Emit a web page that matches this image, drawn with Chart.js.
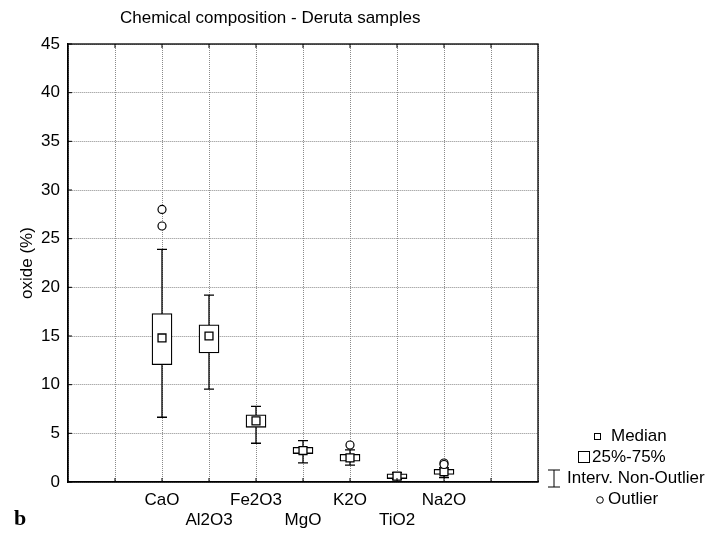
<!DOCTYPE html>
<html>
<head>
<meta charset="utf-8">
<script src="https://cdn.jsdelivr.net/npm/chart.js@4.4.1/dist/chart.umd.min.js"></script>
<style>
  html, body { margin: 0; padding: 0; background: #fff; }
</style>
</head>
<body>
<canvas id="chart" width="715" height="535"></canvas>
<script>
// oxide names and their slot on the x axis (axis runs 0..10)
const oxides = ['CaO', 'Al2O3', 'Fe2O3', 'MgO', 'K2O', 'TiO2', 'Na2O'];
const slots = [2, 3, 4, 5, 6, 7, 8];
const secondRow = ['Al2O3', 'MgO', 'TiO2'];

// box plot values (%)
const whiskerLow = [6.65, 9.55, 3.98, 1.97, 1.73, 0.25, 0.45];
const q1 = [12.05, 13.25, 5.62, 2.92, 2.14, 0.35, 0.78];
const median = [14.8, 15.0, 6.28, 3.23, 2.48, 0.6, 1.05];
const q3 = [17.3, 16.15, 6.9, 3.57, 2.85, 0.85, 1.3];
const whiskerHigh = [23.9, 19.2, 7.77, 4.26, 3.3, 0.95, 1.45];

// outliers: index into oxides, value
const outlierIdx = [0, 0, 4, 6, 6];
const outlierVal = [28.0, 26.3, 3.8, 1.95, 1.8];

const yTicks = [0, 5, 10, 15, 20, 25, 30, 35, 40, 45];

const FONT = '"Liberation Sans", Arial, sans-serif';

const boxPlugin = {
  id: 'boxExtras',
  beforeDatasetsDraw(chart) {
    const ctx = chart.ctx;
    const x = chart.scales.x, y = chart.scales.y;
    ctx.save();
    ctx.strokeStyle = '#000';
    ctx.lineWidth = 1.3;
    for (let i = 0; i < oxides.length; i++) {
      const px = x.getPixelForValue(slots[i]);
      const lo = y.getPixelForValue(whiskerLow[i]);
      const hi = y.getPixelForValue(whiskerHigh[i]);
      ctx.beginPath();
      ctx.moveTo(px, lo); ctx.lineTo(px, hi);
      ctx.moveTo(px - 5, lo); ctx.lineTo(px + 5, lo);
      ctx.moveTo(px - 5, hi); ctx.lineTo(px + 5, hi);
      ctx.stroke();
    }
    ctx.restore();
  },
  afterDraw(chart) {
    const ctx = chart.ctx;
    const a = chart.chartArea;
    const x = chart.scales.x, y = chart.scales.y;
    ctx.save();
    // frame
    ctx.strokeStyle = '#000';
    ctx.lineWidth = 1.3;
    ctx.strokeRect(a.left, a.top, a.right - a.left, a.bottom - a.top);
    // inner ticks
    ctx.lineWidth = 1;
    ctx.beginPath();
    yTicks.forEach(v => {
      const py = y.getPixelForValue(v);
      ctx.moveTo(a.left, py); ctx.lineTo(a.left + 4, py);
    });
    for (let v = 1; v < 10; v++) {
      const px = x.getPixelForValue(v);
      ctx.moveTo(px, a.bottom); ctx.lineTo(px, a.bottom - 4);
      ctx.moveTo(px, a.top); ctx.lineTo(px, a.top + 4);
    }
    ctx.stroke();

    // title
    ctx.fillStyle = '#000';
    ctx.font = '17px ' + FONT;
    ctx.textBaseline = 'middle';
    ctx.textAlign = 'left';
    ctx.fillText('Chemical composition - Deruta samples', 120, 18);

    // panel letter
    ctx.font = 'bold 22px "Liberation Serif", "Times New Roman", serif';
    ctx.textBaseline = 'alphabetic';
    ctx.fillText('b', 14, 525);

    // legend
    ctx.font = '17px ' + FONT;
    ctx.textBaseline = 'middle';
    ctx.lineWidth = 1;
    ctx.strokeStyle = '#000';
    ctx.fillStyle = '#000';
    ctx.strokeRect(594.5, 433.5, 6, 6);
    ctx.fillText('Median', 611, 436);
    ctx.strokeRect(578.5, 451.5, 11, 11);
    ctx.fillText('25%-75%', 592, 457);
    ctx.beginPath();
    ctx.moveTo(554, 470); ctx.lineTo(554, 487);
    ctx.moveTo(548, 470); ctx.lineTo(560, 470);
    ctx.moveTo(548, 487); ctx.lineTo(560, 487);
    ctx.stroke();
    ctx.fillText('Interv. Non-Outlier', 567, 478);
    ctx.beginPath();
    ctx.arc(600, 500, 3.3, 0, Math.PI * 2);
    ctx.stroke();
    ctx.fillText('Outlier', 608, 499);
    ctx.restore();
  }
};

const boxData = slots.map((s, i) => ({ x: s, y: [q1[i], q3[i]] }));
const medianData = slots.map((s, i) => ({ x: s, y: median[i] }));
const outlierData = outlierIdx.map((k, i) => ({ x: slots[k], y: outlierVal[i] }));

new Chart(document.getElementById('chart'), {
  type: 'bar',
  data: {
    datasets: [
      {
        type: 'scatter',
        label: 'Outlier',
        data: outlierData,
        pointStyle: 'circle',
        radius: 4,
        backgroundColor: '#fff',
        borderColor: '#000',
        borderWidth: 1.2
      },
      {
        type: 'scatter',
        label: 'Median',
        data: medianData,
        pointStyle: 'rect',
        radius: 5.6,
        backgroundColor: '#fff',
        borderColor: '#000',
        borderWidth: 1.3
      },
      {
        label: '25%-75%',
        data: boxData,
        barThickness: 20,
        backgroundColor: '#fff',
        borderColor: '#000',
        borderWidth: 1.3,
        borderSkipped: false
      }
    ]
  },
  options: {
    responsive: false,
    animation: false,
    events: [],
    layout: { padding: { left: 0, right: 177, top: 44, bottom: 0 } },
    plugins: {
      legend: { display: false },
      title: { display: false },
      tooltip: { enabled: false }
    },
    scales: {
      x: {
        type: 'linear',
        min: 0,
        max: 10,
        offset: false,
        afterFit: s => { s.height = 53; },
        border: { display: true, color: '#000', width: 1.3, dash: [1, 1] },
        grid: { color: '#8a8a8a', lineWidth: 1, drawTicks: false, offset: false },
        ticks: {
          stepSize: 1,
          autoSkip: false,
          maxRotation: 0,
          padding: 8,
          color: '#000',
          font: { family: FONT, size: 17, lineHeight: 1.18 },
          callback: v => {
            const i = slots.indexOf(v);
            if (i < 0) return '';
            return secondRow.includes(oxides[i]) ? ['', oxides[i]] : oxides[i];
          }
        }
      },
      y: {
        min: 0,
        max: 45,
        afterFit: s => { s.width = 68; },
        border: { display: true, color: '#000', width: 1.3, dash: [1, 1] },
        grid: { color: '#8a8a8a', lineWidth: 1, drawTicks: false },
        ticks: {
          stepSize: 5,
          padding: 8,
          color: '#000',
          font: { family: FONT, size: 17 }
        },
        title: {
          display: true,
          text: 'oxide (%)',
          color: '#000',
          font: { family: FONT, size: 17 },
          padding: { top: 17, bottom: 0 }
        }
      }
    }
  },
  plugins: [boxPlugin]
});
</script>
</body>
</html>
